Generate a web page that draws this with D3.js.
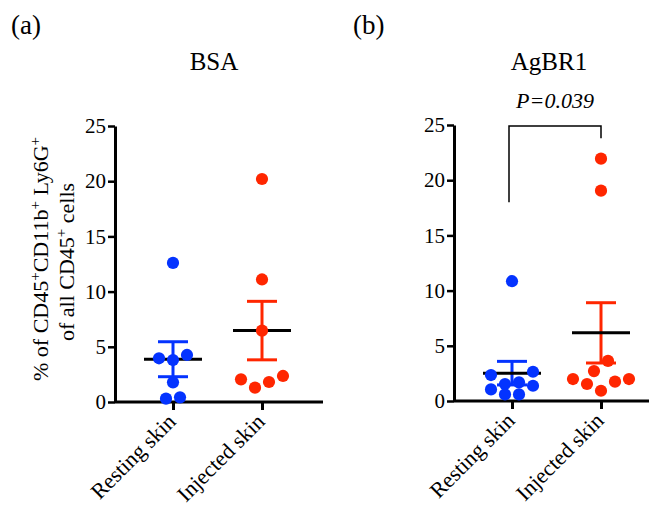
<!DOCTYPE html>
<html>
<head>
<meta charset="utf-8">
<script src="https://cdn.jsdelivr.net/npm/d3@7"></script>
<style>
body { margin: 0; background: #fff; }
svg text { font-family: "Liberation Serif", "Times New Roman", serif; fill: #000; }
</style>
</head>
<body>
<div id="app"></div>
<script>
// Scatter dot plots (mean +/- SEM), two panels.

var categories = ["Resting skin", "Injected skin"];
var yTicks = [0, 5, 10, 15, 20, 25];
var panelLetters = ["(a)", "(b)"];
var panelTitles = ["BSA", "AgBR1"];

var bsaResting = [12.6, 4.26, 3.8, 3.96, 1.78, 0.3, 0.42];
var bsaInjected = [20.2, 11.1, 6.46, 2.05, 1.3, 1.81, 2.36];
var agbrResting = [10.85, 2.65, 2.35, 1.69, 1.54, 1.38, 1.05, 0.6, 0.6];
var agbrInjected = [21.95, 19.05, 3.64, 2.71, 1.99, 1.75, 1.99, 1.54, 0.93];

var pText = "P=0.039";
var bracket = {left: 18.0, top: 24.9, right: 23.8};

var seriesColors = ["#0433ff", "#ff2600"];

var width = 649, height = 512;
var dotR = 6.1, rowHeight = 13, dotSpacing = 14;

var svg = d3.select("#app").append("svg")
	.attr("width", width).attr("height", height);

var panels = [
	{letter: panelLetters[0], title: panelTitles[0], groups: [bsaResting, bsaInjected],
	 left: 115, top: 126, bottom: 402, letterX: 11, titleX: 214},
	{letter: panelLetters[1], title: panelTitles[1], groups: [agbrResting, agbrInjected],
	 left: 454, top: 125, bottom: 401, letterX: 353, titleX: 549, stats: true}
];

// Prism-like scatter: points close in y share a row, lowest value sits in the middle.
function scatterOffsets (values, y)
{
	var idx = d3.range(values.length).sort(function (a, b) {return values[b] - values[a];});
	var off = new Array(values.length).fill(0);
	var rows = [], row = null;
	idx.forEach(function (i) {
		if (row && y(values[i]) - y(values[row[0]]) < rowHeight) row.push(i);
		else { row = [i]; rows.push(row); }
	});
	rows.forEach(function (r) {
		var n = r.length;
		var slots = d3.range(n).map(function (k) {return (k - (n - 1) / 2) * dotSpacing;});
		slots.sort(function (a, b) {return Math.abs(a) - Math.abs(b) || a - b;});
		var asc = r.slice().sort(function (a, b) {return values[a] - values[b];});
		asc.forEach(function (i, k) {off[i] = slots[k];});
	});
	return off;
}

panels.forEach(function (p)
{
	var g = svg.append("g");
	var y = d3.scaleLinear().domain([0, 25]).range([p.bottom, p.top]);
	var x = d3.scalePoint().domain(categories).range([p.left + 58, p.left + 147]);
	var xEnd = p.left + 208;

	g.append("text").attr("x", p.letterX).attr("y", 34)
		.style("font-size", "27px").text(p.letter);
	g.append("text").attr("x", p.titleX).attr("y", 70)
		.attr("text-anchor", "middle").style("font-size", "25px").text(p.title);

	// y axis
	var ya = g.append("g").attr("transform", "translate(" + p.left + ",0)")
		.call(d3.axisLeft(y).tickValues(yTicks).tickSize(7).tickSizeOuter(0).tickPadding(2));
	ya.select(".domain").attr("stroke-width", 3);
	ya.selectAll(".tick line").attr("stroke-width", 2.5);
	ya.selectAll(".tick text").style("font-size", "21px")
		.style("font-family", "Liberation Serif, serif").attr("fill", "#000");

	// x axis
	var xa = g.append("g").attr("transform", "translate(0," + p.bottom + ")")
		.call(d3.axisBottom(x).tickSize(8).tickSizeOuter(0));
	xa.select(".domain").remove();
	xa.selectAll(".tick text").remove();
	xa.selectAll(".tick line").attr("stroke-width", 3);
	g.append("line").attr("x1", p.left).attr("x2", xEnd)
		.attr("y1", p.bottom).attr("y2", p.bottom)
		.attr("stroke", "#000").attr("stroke-width", 3);

	g.selectAll(".xlab").data(categories).enter().append("text")
		.attr("class", "xlab")
		.attr("transform", function (d) {return "translate(" + (x(d) + 4) + "," + (p.bottom + 21) + ") rotate(-45)";})
		.attr("text-anchor", "end").style("font-size", "22px")
		.text(function (d) {return d;});

	p.groups.forEach(function (vals, gi)
	{
		var cx = x(categories[gi]);
		var col = seriesColors[gi];
		var mean = d3.mean(vals);
		var sem = d3.deviation(vals) / Math.sqrt(vals.length);

		// error bar (SEM)
		g.append("line").attr("x1", cx).attr("x2", cx)
			.attr("y1", y(mean - sem)).attr("y2", y(mean + sem))
			.attr("stroke", col).attr("stroke-width", 3);
		[mean - sem, mean + sem].forEach(function (v) {
			g.append("line").attr("x1", cx - 15).attr("x2", cx + 15)
				.attr("y1", y(v)).attr("y2", y(v))
				.attr("stroke", col).attr("stroke-width", 3);
		});
		// mean
		g.append("line").attr("x1", cx - 29).attr("x2", cx + 29)
			.attr("y1", y(mean)).attr("y2", y(mean))
			.attr("stroke", "#000").attr("stroke-width", 3);

		var off = scatterOffsets(vals, y);
		g.selectAll(".dot" + gi).data(vals).enter().append("circle")
			.attr("cx", function (d, i) {return cx + off[i];})
			.attr("cy", function (d) {return y(d);})
			.attr("r", dotR).attr("fill", col);
	});

	if (p.stats)
	{
		var xl = x(categories[0]) - 3, xr = x(categories[1]);
		g.append("path")
			.attr("d", "M" + xl + "," + y(bracket.left) + "V" + y(bracket.top) +
				"H" + xr + "V" + y(bracket.right))
			.attr("fill", "none").attr("stroke", "#000").attr("stroke-width", 1.5);
		g.append("text").attr("x", (xl + xr) / 2).attr("y", 108)
			.attr("text-anchor", "middle").style("font-size", "22px")
			.style("font-style", "italic").text(pText);
	}
});

// y axis title, two lines, rotated
var yt = svg.append("text").attr("transform", "translate(48,259) rotate(-90)")
	.attr("text-anchor", "middle").style("font-size", "22px");
[["% of CD45", false], ["+", true], ["CD11b", false], ["+", true], [" Ly6G", false], ["+", true]]
	.forEach(function (s) {
		var t = yt.append("tspan").text(s[0]);
		if (s[1]) t.attr("baseline-shift", "super").style("font-size", "15px");
	});
var yt2 = svg.append("text").attr("transform", "translate(74,262) rotate(-90)")
	.attr("text-anchor", "middle").style("font-size", "22px");
[["of all CD45", false], ["+", true], [" cells", false]].forEach(function (s) {
	var t = yt2.append("tspan").text(s[0]);
	if (s[1]) t.attr("baseline-shift", "super").style("font-size", "15px");
});
</script>
</body>
</html>
